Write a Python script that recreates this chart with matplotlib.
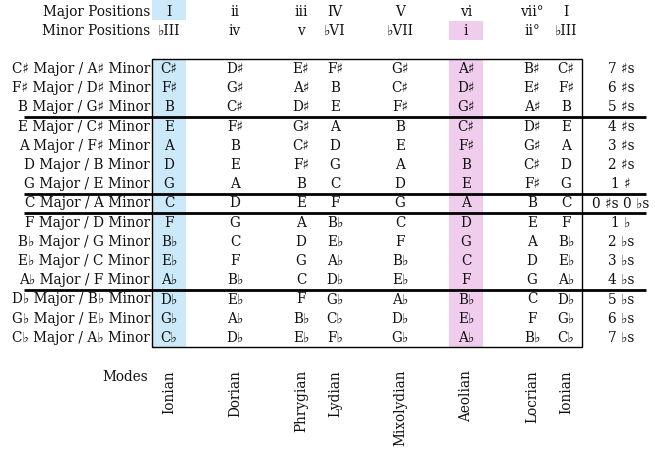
import matplotlib.pyplot as plt
from matplotlib.patches import Rectangle

major_positions = ["I", "ii", "iii", "IV", "V", "vi", "vii°", "I"]
minor_positions = ["♭III", "iv", "v", "♭VI", "♭VII", "i", "ii°", "♭III"]
modes = ["Ionian", "Dorian", "Phrygian", "Lydian", "Mixolydian", "Aeolian", "Locrian", "Ionian"]

keys = [
    "C♯ Major / A♯ Minor", "F♯ Major / D♯ Minor", "B Major / G♯ Minor",
    "E Major / C♯ Minor", "A Major / F♯ Minor", "D Major / B Minor",
    "G Major / E Minor", "C Major / A Minor", "F Major / D Minor",
    "B♭ Major / G Minor", "E♭ Major / C Minor", "A♭ Major / F Minor",
    "D♭ Major / B♭ Minor", "G♭ Major / E♭ Minor", "C♭ Major / A♭ Minor",
]
notes = [
    ["C♯", "D♯", "E♯", "F♯", "G♯", "A♯", "B♯", "C♯"],
    ["F♯", "G♯", "A♯", "B", "C♯", "D♯", "E♯", "F♯"],
    ["B", "C♯", "D♯", "E", "F♯", "G♯", "A♯", "B"],
    ["E", "F♯", "G♯", "A", "B", "C♯", "D♯", "E"],
    ["A", "B", "C♯", "D", "E", "F♯", "G♯", "A"],
    ["D", "E", "F♯", "G", "A", "B", "C♯", "D"],
    ["G", "A", "B", "C", "D", "E", "F♯", "G"],
    ["C", "D", "E", "F", "G", "A", "B", "C"],
    ["F", "G", "A", "B♭", "C", "D", "E", "F"],
    ["B♭", "C", "D", "E♭", "F", "G", "A", "B♭"],
    ["E♭", "F", "G", "A♭", "B♭", "C", "D", "E♭"],
    ["A♭", "B♭", "C", "D♭", "E♭", "F", "G", "A♭"],
    ["D♭", "E♭", "F", "G♭", "A♭", "B♭", "C", "D♭"],
    ["G♭", "A♭", "B♭", "C♭", "D♭", "E♭", "F", "G♭"],
    ["C♭", "D♭", "E♭", "F♭", "G♭", "A♭", "B♭", "C♭"],
]
key_sigs = ["7 ♯s", "6 ♯s", "5 ♯s", "4 ♯s", "3 ♯s", "2 ♯s", "1 ♯",
            "0 ♯s 0 ♭s", "1 ♭", "2 ♭s", "3 ♭s", "4 ♭s", "5 ♭s", "6 ♭s", "7 ♭s"]
breaks_after = [2, 6, 7, 11]

# layout (pixels)
col_x = [169, 235, 301, 335, 400, 466, 532, 566]
sig_x = 621
label_x = 150
row0, dy = 69, 19.2
row_y = [row0 + dy * i for i in range(len(keys))]
band_w = 34

plt.rcParams['font.family'] = ['DejaVu Serif', 'DejaVu Sans']
fs = 9.8
tc = "#111111"
blue = "#cbe9f8"
pink = "#f0cdec"

fig = plt.figure(figsize=(6.55, 4.53), dpi=100)
ax = fig.add_axes([0, 0, 1, 1])
ax.set_xlim(0, 655)
ax.set_ylim(453, 0)
ax.axis("off")

top = row_y[0] - dy / 2
bot = row_y[-1] + dy / 2

# highlight bands
ax.add_patch(Rectangle((col_x[0] - band_w / 2, 0), band_w, 20, color=blue, lw=0))
ax.add_patch(Rectangle((col_x[0] - band_w / 2, top), band_w, bot - top, color=blue, lw=0))
ax.add_patch(Rectangle((col_x[5] - band_w / 2, 20.5), band_w, 19.5, color=pink, lw=0))
ax.add_patch(Rectangle((col_x[5] - band_w / 2, top), band_w, bot - top, color=pink, lw=0))

# headers
ax.text(label_x, 12, "Major Positions", ha="right", va="center", fontsize=fs, color=tc)
ax.text(label_x, 31, "Minor Positions", ha="right", va="center", fontsize=fs, color=tc)
for x, mj, mn in zip(col_x, major_positions, minor_positions):
    ax.text(x, 12, mj, ha="center", va="center", fontsize=fs, color=tc)
    ax.text(x, 31, mn, ha="center", va="center", fontsize=fs, color=tc)

# table body
for y, k, row, sig in zip(row_y, keys, notes, key_sigs):
    ax.text(label_x, y, k, ha="right", va="center", fontsize=fs, color=tc)
    for x, n in zip(col_x, row):
        ax.text(x, y, n, ha="center", va="center", fontsize=fs, color=tc)
    ax.text(sig_x, y, sig, ha="center", va="center", fontsize=fs, color=tc)

# box and separators
ax.add_patch(Rectangle((col_x[0] - band_w / 2, top), 582 - (col_x[0] - band_w / 2), bot - top,
                       fill=False, ec="black", lw=1))
for b in breaks_after:
    y = (row_y[b] + row_y[b + 1]) / 2
    ax.plot([24, 646], [y, y], color="black", lw=2, solid_capstyle="butt")

# modes
ax.text(148, 377, "Modes", ha="right", va="center", fontsize=fs, color=tc)
for x, m in zip(col_x, modes):
    ax.text(x, 370, m, ha="center", va="top", rotation=90, fontsize=fs, color=tc)

fig.savefig("out.png", dpi=100)
